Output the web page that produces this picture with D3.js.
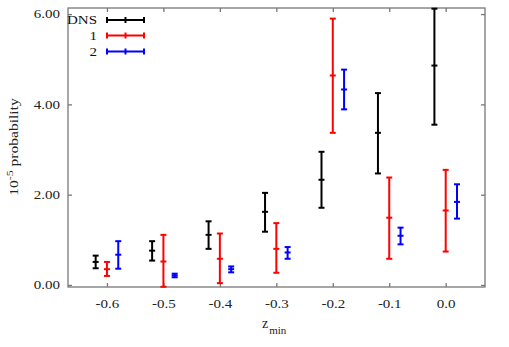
<!DOCTYPE html>
<html><head><meta charset="utf-8">
<script src="https://cdn.jsdelivr.net/npm/d3@7"></script>
<style>body{margin:0;background:#fff}svg{display:block}</style>
</head><body>
<script>
// ---- data ----
const zCats = [-0.6, -0.5, -0.4, -0.3, -0.2, -0.1, 0.0];
const seriesNames = ["DNS", "1", "2"];
const seriesColors = ["#000000", "#ff0000", "#0000ff"];
const seriesOffsets = [-0.02, 0.0, 0.02];
const dnsMid = [0.51, 0.76, 1.11, 1.62, 2.33, 3.37, 4.86];
const dnsLo  = [0.37, 0.54, 0.80, 1.18, 1.71, 2.47, 3.55];
const dnsHi  = [0.65, 0.97, 1.41, 2.04, 2.95, 4.25, 6.12];
const m1Mid  = [0.35, 0.52, 0.58, 0.80, 4.64, 1.49, 1.65];
const m1Lo   = [0.20, -0.04, 0.04, 0.27, 3.37, 0.58, 0.74];
const m1Hi   = [0.51, 1.11, 1.14, 1.37, 5.90, 2.38, 2.55];
const m2Mid  = [0.67, 0.21, 0.35, 0.72, 4.33, 1.09, 1.84];
const m2Lo   = [0.36, 0.17, 0.28, 0.58, 3.89, 0.90, 1.47];
const m2Hi   = [0.97, 0.25, 0.41, 0.84, 4.77, 1.27, 2.23];
const xTicks = [-0.6, -0.5, -0.4, -0.3, -0.2, -0.1, 0.0];
const yTicks = [0, 2, 4, 6];

(function(){
const W = 509, H = 347;
const pL = 68, pR = 485, pT = 8, pB = 287;
const svg = d3.select("body").append("svg").attr("width", W).attr("height", H);
const x = d3.scaleLinear().domain([-0.669, 0.0696]).range([pL, pR]);
const y = d3.scaleLinear().domain([-0.045, 6.135]).range([pB, pT]);
const SX = 1.25;
const font = "'Liberation Serif', 'Times New Roman', serif";

// axes
const fx = d => d.toFixed(1);
const fy = d => d.toFixed(2);
const gB = svg.append("g").attr("transform", `translate(0,${pB})`)
  .call(d3.axisBottom(x).tickValues(xTicks).tickSizeInner(-4).tickSizeOuter(0).tickPadding(12).tickFormat(fx));
const gL = svg.append("g").attr("transform", `translate(${pL},0)`)
  .call(d3.axisLeft(y).tickValues(yTicks).tickSizeInner(-4).tickSizeOuter(0).tickPadding(8).tickFormat(fy));
const gT = svg.append("g").attr("transform", `translate(0,${pT})`)
  .call(d3.axisTop(x).tickValues(xTicks).tickSizeInner(-4).tickSizeOuter(0).tickFormat(""));
const gR = svg.append("g").attr("transform", `translate(${pR},0)`)
  .call(d3.axisRight(y).tickValues(yTicks).tickSizeInner(-4).tickSizeOuter(0).tickFormat(""));
[gB, gL, gT, gR].forEach(g => {
  g.select(".domain").remove();
  g.selectAll(".tick line").attr("stroke", "#777").attr("stroke-width", 1.3);
  g.selectAll("text").attr("font-family", font).attr("font-size", 12).attr("fill", "#222");
});
gB.selectAll("text").attr("transform", `scale(${SX},1)`);
gL.selectAll("text").each(function(){
  const t = d3.select(this);
  t.attr("x", +t.attr("x") / SX).attr("transform", `scale(${SX},1)`);
});
svg.append("rect").attr("x", pL).attr("y", pT).attr("width", pR - pL).attr("height", pB - pT)
  .attr("fill", "none").attr("stroke", "#777").attr("stroke-width", 1.3);

// error bars
const mids = [dnsMid, m1Mid, m2Mid], los = [dnsLo, m1Lo, m2Lo], his = [dnsHi, m1Hi, m2Hi];
const cap = 3;
seriesNames.forEach((name, s) => {
  const g = svg.append("g").attr("stroke", seriesColors[s]).attr("stroke-width", 2).attr("fill", "none");
  zCats.forEach((z, i) => {
    const cx = x(z + seriesOffsets[s]);
    g.append("line").attr("x1", cx).attr("x2", cx).attr("y1", y(los[s][i])).attr("y2", y(his[s][i]));
    [los[s][i], mids[s][i], his[s][i]].forEach(v => {
      g.append("line").attr("x1", cx - cap).attr("x2", cx + cap).attr("y1", y(v)).attr("y2", y(v));
    });
  });
});

// legend
const legY = [20, 35.5, 51.5];
seriesNames.forEach((name, s) => {
  const ly = legY[s];
  const g = svg.append("g").attr("stroke", seriesColors[s]).attr("stroke-width", 2);
  g.append("line").attr("x1", 107).attr("x2", 144).attr("y1", ly).attr("y2", ly);
  [107, 125.5, 144].forEach(lx => g.append("line").attr("x1", lx).attr("x2", lx).attr("y1", ly - 3).attr("y2", ly + 3));
  svg.append("text").attr("transform", `translate(97,${ly + 4}) scale(${SX},1)`)
    .attr("text-anchor", "end").attr("font-family", font).attr("font-size", 12).attr("fill", "#111").text(name);
});

// axis titles
const xl = svg.append("text").attr("x", 262).attr("y", 328).attr("font-family", font).attr("font-size", 14).attr("fill", "#222");
xl.append("tspan").text("z");
xl.append("tspan").attr("font-size", 11).attr("dy", 6).attr("dx", 1).text("min");

const yl = svg.append("text").attr("transform", `translate(17.5,147) rotate(-90) scale(1.3,1)`)
  .attr("text-anchor", "middle").attr("font-family", font).attr("font-size", 12).attr("fill", "#222");
yl.append("tspan").text("10");
yl.append("tspan").attr("font-size", 9).attr("dy", -5).text("-5");
yl.append("tspan").attr("dy", 5).text(" probability");
})();
</script>
</body></html>
